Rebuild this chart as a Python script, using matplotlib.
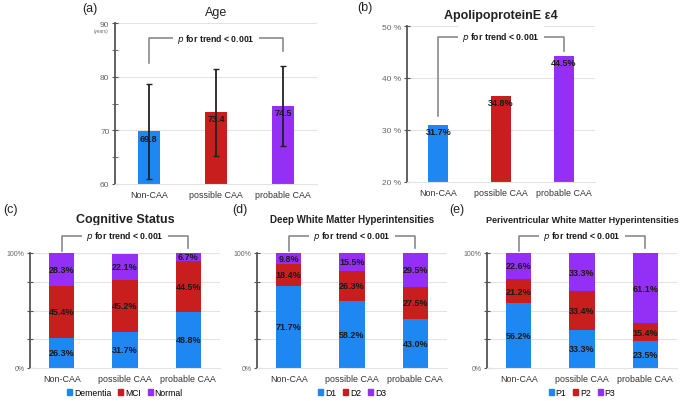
import matplotlib
matplotlib.use('Agg')
import matplotlib.pyplot as plt
from matplotlib.patches import Patch

plt.rcParams['font.family'] = ['Liberation Sans', 'DejaVu Sans']

groups = ['Non-CAA', 'possible CAA', 'probable CAA']

# (a) age
age_mean = [69.8, 73.4, 74.5]
age_sd = [8.9, 8.1, 7.5]

# (b) ApoE e4 carriers (bar heights as drawn, labels as printed)
apoe_height = [31.0, 36.6, 44.3]
apoe_label = [31.7, 34.8, 44.5]

# (c) cognitive status
cog_names = ['Dementia', 'MCI', 'Normal']
dementia = [26.3, 31.7, 48.8]
mci = [45.4, 45.2, 44.5]
normal = [28.3, 22.1, 6.7]

# (d) deep WMH
dwmh_names = ['D1', 'D2', 'D3']
d1 = [71.7, 58.2, 43.0]
d2 = [18.4, 26.3, 27.5]
d3 = [9.8, 15.5, 29.5]

# (e) periventricular WMH
pwmh_names = ['P1', 'P2', 'P3']
p1 = [56.2, 33.3, 23.5]
p2 = [21.2, 33.4, 15.4]
p3 = [22.6, 33.3, 61.1]

BLUE = '#1f87f2'
RED = '#c81e1e'
PURPLE = '#9430f5'
COLORS = [BLUE, RED, PURPLE]
GRID = '#e3e3e3'
SPINE = '#555555'
TICKC = '#666666'
TXT = '#1a1a1a'

W, H = 685, 402
fig = plt.figure(figsize=(W / 100, H / 100), dpi=100)


def px_axes(l, t, r, b):
    return fig.add_axes([l / W, 1 - b / H, (r - l) / W, (b - t) / H])


def style(ax, ylim, ticks, labels, fs):
    ax.set_xlim(-0.5, 2.5)
    ax.set_ylim(*ylim)
    for s in ['top', 'right']:
        ax.spines[s].set_visible(False)
    ax.spines['bottom'].set_color(GRID)
    ax.spines['left'].set_color(SPINE)
    ax.spines['left'].set_linewidth(1.3)
    ax.set_yticks(ticks)
    ax.set_yticklabels(labels)
    ax.tick_params(axis='y', direction='inout', length=4, color=SPINE,
                   labelsize=fs, labelcolor=TICKC, pad=2)
    ax.tick_params(axis='x', length=0, labelsize=6.4, labelcolor='#333333', pad=4)
    ax.set_xticks(range(3))
    ax.set_xticklabels(groups)
    for t in ticks[1:]:
        ax.axhline(t, color=GRID, lw=0.8, zorder=0)


def bracket(ax, y_left, y_top, y_right, fs=6.3):
    ax.plot([0, 0, 2, 2], [y_left, y_top, y_top, y_right], color='#8a8a8a',
            lw=1.2, clip_on=False, zorder=3)
    ax.text(1, y_top, r'$\bf{\it{p}}$ for trend < 0.001', ha='center', va='center',
            fontsize=fs, fontweight='bold', color=TXT, zorder=4,
            bbox=dict(facecolor='white', edgecolor='none', pad=3), clip_on=False)


def stacked(ax, series, names, title, tfs, letter, lx):
    bottom = [0, 0, 0]
    for vals, c in zip(series, COLORS):
        ax.bar(range(3), vals, width=0.4, bottom=bottom, color=c, zorder=2)
        for i, v in enumerate(vals):
            ax.text(i, bottom[i] + v / 2, f'{v:.1f}%', ha='center', va='center',
                    fontsize=6.5, fontweight='bold', color=TXT, zorder=3)
        bottom = [b + v for b, v in zip(bottom, vals)]
    style(ax, (0, 100), [0, 25, 50, 75, 100], ['0%', '', '', '', '100%'], 5)
    bracket(ax, 102, 115, 104.5)
    ax.set_title(title, fontsize=tfs, fontweight='bold', color='#222222', pad=22)
    ax.legend(handles=[Patch(color=c) for c in COLORS], labels=names, loc='center',
              bbox_to_anchor=(0.5, -0.215), ncol=3, frameon=False, fontsize=6.2,
              handlelength=0.6, handleheight=0.6, handletextpad=0.2, columnspacing=0.8,
              borderpad=0.1)
    fig.text(lx / W, 1 - 210 / H, letter, fontsize=9, ha='left', va='center', color='#222222')


# (a) Age
ax = px_axes(115, 24, 317, 185)
ax.bar(range(3), age_mean, width=0.33, color=COLORS, zorder=2)
ax.errorbar(range(3), age_mean, yerr=age_sd, fmt='none', ecolor='#222222',
            elinewidth=1.3, capsize=2, capthick=1, zorder=3)
for i, v in enumerate(age_mean):
    ax.text(i, v - 0.4, f'{v:.1f}', ha='center', va='top', fontsize=6.5,
            fontweight='bold', color=TXT, zorder=4)
style(ax, (60, 90), [60, 70, 80, 90], ['60', '70', '80', '90'], 6)
ax.set_yticks([65, 75, 85], minor=True)
ax.tick_params(axis='y', which='minor', direction='inout', length=4, color=SPINE)
ax.text(-0.6, 88.6, '(years)', fontsize=3.3, color=TICKC, ha='right', va='center')
bracket(ax, 82.5, 87.2, 84.8)
ax.set_title('Age', fontsize=9, color='#222222', pad=6)
fig.text(82 / W, 1 - 9 / H, '(a)', fontsize=9, ha='left', va='center', color='#222222')

# (b) ApoE e4
ax = px_axes(407, 27, 595, 183)
ax.bar(range(3), apoe_height, width=0.32, color=COLORS, zorder=2)
for i, (h, v) in enumerate(zip(apoe_height, apoe_label)):
    ax.text(i, h - 0.4, f'{v:.1f}%', ha='center', va='top', fontsize=6.5,
            fontweight='bold', color=TXT, zorder=4)
style(ax, (20, 50), [20, 30, 40, 50], ['20 %', '30 %', '40 %', '50 %'], 6)
bracket(ax, 32.7, 47.9, 45.2)
ax.set_title('ApolipoproteinE ε4', fontsize=9, fontweight='bold', color='#222222', pad=6)
fig.text(357 / W, 1 - 8 / H, '(b)', fontsize=9, ha='left', va='center', color='#222222')

# (c) (d) (e)
stacked(px_axes(30, 254, 220, 369), [dementia, mci, normal], cog_names,
        'Cognitive Status', 9, '(c)', 3)
stacked(px_axes(257, 254, 447, 369), [d1, d2, d3], dwmh_names,
        'Deep White Matter Hyperintensities', 7, '(d)', 232)
stacked(px_axes(487, 254, 677, 369), [p1, p2, p3], pwmh_names,
        'Periventricular White Matter Hyperintensities', 6.5, '(e)', 449)

fig.savefig('out.png', dpi=100, facecolor='white')
